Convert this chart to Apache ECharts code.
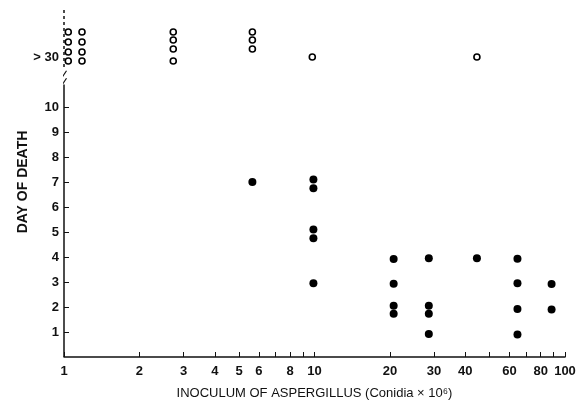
<!DOCTYPE html>
<html>
<head>
<meta charset="utf-8">
<title>Day of death vs inoculum</title>
<script src="https://cdn.jsdelivr.net/npm/echarts@6/dist/echarts.min.js"></script>
<style>
  html, body { margin: 0; padding: 0; background: #fff; }
  #chart { width: 585px; height: 414px; }
</style>
</head>
<body>
<div id="chart"></div>
<script>
// inoculum (conidia x 10^6) and day of death
var deadX = [5.65, 9.9, 9.9, 9.9, 9.9, 9.9, 20.7, 20.7, 20.7, 20.7, 28.6, 28.6, 28.6, 28.6, 44.5, 64.6, 64.6, 64.6, 64.6, 88.4, 88.4];
var deadY = [7.0, 7.1, 6.75, 5.1, 4.75, 2.95, 3.92, 2.93, 2.05, 1.73, 3.95, 2.05, 1.73, 0.92, 3.95, 3.93, 2.95, 1.92, 0.9, 2.92, 1.9];

// survivors (> 30 days), stacked a bit above/below the "> 30" line (12 on the scale)
var aliveX = [1.04, 1.04, 1.04, 1.04, 1.18, 1.18, 1.18, 1.18, 2.73, 2.73, 2.73, 2.73, 5.65, 5.65, 5.65, 9.8, 44.5];
var aliveY = [13.0, 12.6, 12.2, 11.84, 13.0, 12.6, 12.2, 11.84, 13.0, 12.68, 12.32, 11.84, 13.0, 12.68, 12.32, 12.0, 12.0];

var xTicks = [1, 2, 3, 4, 5, 6, 7, 8, 9, 10, 20, 30, 40, 50, 60, 70, 80, 90, 100];
var xLabels = [1, 2, 3, 4, 5, 6, 8, 10, 20, 30, 40, 60, 80, 100];
var yTicks = [1, 2, 3, 4, 5, 6, 7, 8, 9, 10];
var yLabels = [1, 2, 3, 4, 5, 6, 7, 8, 9, 10, 12];

function lg(v) { return Math.log10(v); }
function pairs(xs, ys) {
  var out = [];
  for (var i = 0; i < xs.length; i++) out.push([lg(xs[i]), ys[i]]);
  return out;
}

var font = 'Liberation Sans, Arial, sans-serif';
var chart = echarts.init(document.getElementById('chart'));
chart.setOption({
  animation: false,
  grid: { left: 64, right: 20, top: 7, bottom: 57 },
  xAxis: {
    type: 'value', min: 0, max: 2,
    name: 'INOCULUM OF ASPERGILLUS (Conidia \u00d7 10\u2076)',
    nameLocation: 'middle', nameGap: 30,
    nameTextStyle: { color: '#111', fontSize: 13, fontFamily: font },
    axisLine: { lineStyle: { color: '#111', width: 1.5 } },
    axisTick: { inside: true, length: 5, customValues: xTicks.map(lg), lineStyle: { color: '#111' } },
    axisLabel: {
      customValues: xLabels.map(lg), color: '#111', fontSize: 13, fontWeight: 'bold', fontFamily: font, margin: 8,
      formatter: function (v) { return String(Math.round(Math.pow(10, v))); }
    },
    splitLine: { show: false }
  },
  yAxis: {
    type: 'value', min: 0, max: 14,
    name: 'DAY OF DEATH',
    nameLocation: 'middle', nameGap: 34, nameMoveOverlap: false,
    nameTextStyle: { color: '#111', fontSize: 14, fontWeight: 'bold', fontFamily: font },
    axisLine: { show: false },
    axisTick: { inside: true, length: 5, customValues: yTicks, lineStyle: { color: '#111' } },
    axisLabel: {
      customValues: yLabels, color: '#111', fontSize: 13, fontWeight: 'bold', fontFamily: font, margin: 5,
      formatter: function (v) { return v === 12 ? '> 30' : String(v); }
    },
    splitLine: { show: false }
  },
  series: [
    {
      type: 'line', data: [[0, 0], [0, 10.9]], symbol: 'none', clip: false,
      lineStyle: { color: '#111', width: 1.5 }
    },
    {
      type: 'line', data: [[0, 11.6], [0, 14]], symbol: 'none', clip: false,
      lineStyle: { color: '#111', width: 1.5, type: [3, 3] }
    },
    {
      type: 'line', data: [[-0.01, 10.85], [0.01, 11.15]], symbol: 'none', clip: false,
      lineStyle: { color: '#111', width: 1.2 }
    },
    {
      type: 'line', data: [[-0.01, 11.15], [0.01, 11.45]], symbol: 'none', clip: false,
      lineStyle: { color: '#111', width: 1.2 }
    },
    {
      type: 'scatter', data: pairs(deadX, deadY), symbol: 'circle', symbolSize: 8,
      itemStyle: { color: '#000', opacity: 1 }
    },
    {
      type: 'scatter', data: pairs(aliveX, aliveY), symbol: 'circle', symbolSize: 6,
      itemStyle: { color: '#fff', borderColor: '#000', borderWidth: 1.6, opacity: 1 }
    }
  ]
});
</script>
</body>
</html>
